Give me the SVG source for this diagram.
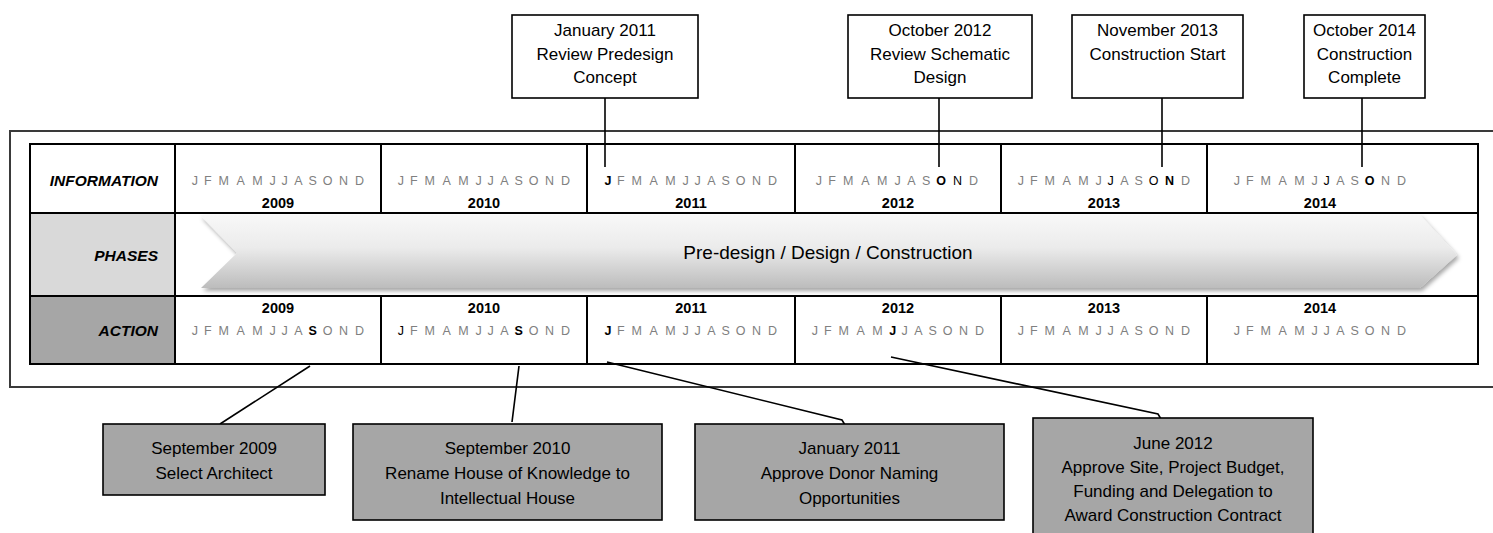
<svg xmlns="http://www.w3.org/2000/svg" width="1493" height="533" viewBox="0 0 1493 533">
<style>
text{font-family:"Liberation Sans",Arial,sans-serif}
.m{font-size:12.5px;fill:#808080;text-anchor:middle}
.b{font-weight:bold;fill:#000}
.k{fill:#000}
.yr{font-size:14.5px;font-weight:bold;text-anchor:middle;fill:#000}
.lbl{font-size:15.5px;font-weight:bold;font-style:italic;text-anchor:end;fill:#000}
.bx{fill:#fff;stroke:#000;stroke-width:1.6}
.gbx{fill:#a6a6a6;stroke:#000;stroke-width:1.6}
.t{font-size:17px;text-anchor:middle;fill:#000}
.ln{stroke:#000;stroke-width:2;fill:none}
.cn{stroke:#000;stroke-width:1.6;fill:none}
</style>
<defs>
<linearGradient id="ag" x1="0" y1="0" x2="0" y2="1">
<stop offset="0" stop-color="#f8f8f8"/>
<stop offset="0.45" stop-color="#ebebeb"/>
<stop offset="1" stop-color="#bcbcbc"/>
</linearGradient>
<filter id="sh" x="-5%" y="-20%" width="110%" height="160%">
<feDropShadow dx="2" dy="3" stdDeviation="2" flood-color="#000" flood-opacity="0.35"/>
</filter>
</defs>
<rect width="1493" height="533" fill="#fff"/>
<g id="frame">
<rect x="10" y="131" width="1500" height="256" fill="none" stroke="#3a3a3a" stroke-width="2"/>
</g>
<g id="table">
<rect x="30" y="213" width="145" height="83" fill="#d9d9d9"/>
<rect x="30" y="296" width="145" height="68" fill="#a6a6a6"/>
<rect x="30" y="144" width="1448" height="220" class="ln"/>
<line x1="30" y1="213" x2="1478" y2="213" class="ln"/>
<line x1="30" y1="296" x2="1478" y2="296" class="ln"/>
<line x1="175" y1="144" x2="175" y2="364" class="ln"/>
<path class="ln" d="M381 144V213M587 144V213M795 144V213M1001 144V213M1207 144V213M381 296V364M587 296V364M795 296V364M1001 296V364M1207 296V364"/>
</g>
<g id="labels">
<text class="lbl" x="158" y="185.5">INFORMATION</text>
<text class="lbl" x="158" y="260.5">PHASES</text>
<text class="lbl" x="158" y="335.5">ACTION</text>
</g>
<g id="info-row">
<text class="m" x="194.9 207.8 223.8 240.7 257.4 272.7 284.7 298.3 312.7 327.6 343.6 359.4" y="184.5">JFMAMJJASOND</text>
<text class="yr" x="278" y="207.5">2009</text>
<text class="m" x="400.9 413.8 429.8 446.7 463.4 478.7 490.7 504.3 518.7 533.6 549.6 565.4" y="184.5">JFMAMJJASOND</text>
<text class="yr" x="484" y="207.5">2010</text>
<text class="m" x="607.9 620.8 636.8 653.7 670.4 685.7 697.7 711.3 725.7 740.6 756.6 772.4" y="184.5"><tspan class="b">J</tspan>FMAMJJASOND</text>
<text class="yr" x="691" y="207.5">2011</text>
<text class="m" x="818.9 832 848.2 865.3 882.2 897.7 911.5 926.1 941.2 957.4 973.4" y="184.5">JFMAMJAS<tspan class="b">O</tspan><tspan class="k">N</tspan>D</text>
<text class="yr" x="898" y="207.5">2012</text>
<text class="m" x="1020.9 1033.8 1049.8 1066.7 1083.4 1098.7 1110.7 1124.3 1138.7 1153.6 1169.6 1185.4" y="184.5">JFMAMJ<tspan class="k">J</tspan>AS<tspan class="k">O</tspan><tspan class="b">N</tspan>D</text>
<text class="yr" x="1104" y="207.5">2013</text>
<text class="m" x="1236.9 1249.8 1265.8 1282.7 1299.4 1314.7 1326.7 1340.3 1354.7 1369.6 1385.6 1401.4" y="184.5">JFMAMJ<tspan class="k">J</tspan>AS<tspan class="b">O</tspan>ND</text>
<text class="yr" x="1320" y="207.5">2014</text>
</g>
<g id="phases">
<path d="M200 215H1420L1457 255L1420 288H201L237 253Z" fill="url(#ag)" filter="url(#sh)"/>
<text x="828" y="258.5" font-size="19" text-anchor="middle" fill="#000">Pre-design / Design / Construction</text>
</g>
<g id="action-row">
<text class="yr" x="278" y="312.5">2009</text>
<text class="m" x="194.9 207.8 223.8 240.7 257.4 272.7 284.7 298.3 312.7 327.6 343.6 359.4" y="334.5">JFMAMJJA<tspan class="b">S</tspan>OND</text>
<text class="yr" x="484" y="312.5">2010</text>
<text class="m" x="400.9 413.8 429.8 446.7 463.4 478.7 490.7 504.3 518.7 533.6 549.6 565.4" y="334.5"><tspan class="k">J</tspan>FMAMJJA<tspan class="b">S</tspan>OND</text>
<text class="yr" x="691" y="312.5">2011</text>
<text class="m" x="607.9 620.8 636.8 653.7 670.4 685.7 697.7 711.3 725.7 740.6 756.6 772.4" y="334.5"><tspan class="b">J</tspan>FMAMJJASOND</text>
<text class="yr" x="898" y="312.5">2012</text>
<text class="m" x="814.9 827.8 843.8 860.7 877.4 892.7 904.7 918.3 932.7 947.6 963.6 979.4" y="334.5">JFMAM<tspan class="b">J</tspan>JASOND</text>
<text class="yr" x="1104" y="312.5">2013</text>
<text class="m" x="1020.9 1033.8 1049.8 1066.7 1083.4 1098.7 1110.7 1124.3 1138.7 1153.6 1169.6 1185.4" y="334.5">JFMAMJJASOND</text>
<text class="yr" x="1320" y="312.5">2014</text>
<text class="m" x="1236.9 1249.8 1265.8 1282.7 1299.4 1314.7 1326.7 1340.3 1354.7 1369.6 1385.6 1401.4" y="334.5">JFMAMJJASOND</text>
</g>
<g id="connectors">
<line class="cn" x1="605" y1="98" x2="605" y2="167"/>
<line class="cn" x1="939" y1="98" x2="939" y2="167"/>
<line class="cn" x1="1162" y1="98" x2="1162" y2="167"/>
<line class="cn" x1="1362" y1="98" x2="1362" y2="167"/>
<line class="cn" x1="310" y1="366" x2="220" y2="424"/>
<line class="cn" x1="519" y1="366" x2="512" y2="422"/>
<polyline class="cn" points="607,362 842,420 845,425"/>
<polyline class="cn" points="891,357 1158,414 1161,419"/>
</g>
<g id="top1">
<rect class="bx" x="512" y="15" width="186" height="83"/>
<text class="t" x="605" y="36">January 2011</text>
<text class="t" x="605" y="59.5">Review Predesign</text>
<text class="t" x="605" y="83">Concept</text>
</g>
<g id="top2">
<rect class="bx" x="848" y="15" width="184" height="83"/>
<text class="t" x="940" y="36">October 2012</text>
<text class="t" x="940" y="59.5">Review Schematic</text>
<text class="t" x="940" y="83">Design</text>
</g>
<g id="top3">
<rect class="bx" x="1072" y="15" width="171" height="83"/>
<text class="t" x="1157.5" y="36">November 2013</text>
<text class="t" x="1157.5" y="59.5">Construction Start</text>
</g>
<g id="top4">
<rect class="bx" x="1304" y="15" width="121" height="83"/>
<text class="t" x="1364.5" y="36">October 2014</text>
<text class="t" x="1364.5" y="59.5">Construction</text>
<text class="t" x="1364.5" y="83">Complete</text>
</g>
<g id="bottom1">
<rect class="gbx" x="103" y="424" width="222" height="71"/>
<text class="t" x="214" y="454">September 2009</text>
<text class="t" x="214" y="479">Select Architect</text>
</g>
<g id="bottom2">
<rect class="gbx" x="353" y="424" width="309" height="96"/>
<text class="t" x="507.5" y="454">September 2010</text>
<text class="t" x="507.5" y="479">Rename House of Knowledge to</text>
<text class="t" x="507.5" y="504">Intellectual House</text>
</g>
<g id="bottom3">
<rect class="gbx" x="695" y="424" width="309" height="96"/>
<text class="t" x="849.5" y="454">January 2011</text>
<text class="t" x="849.5" y="479">Approve Donor Naming</text>
<text class="t" x="849.5" y="504">Opportunities</text>
</g>
<g id="bottom4">
<rect class="gbx" x="1033" y="418" width="280" height="130"/>
<text class="t" x="1173" y="449">June 2012</text>
<text class="t" x="1173" y="473">Approve Site, Project Budget,</text>
<text class="t" x="1173" y="497">Funding and Delegation to</text>
<text class="t" x="1173" y="521">Award Construction Contract</text>
</g>
</svg>
